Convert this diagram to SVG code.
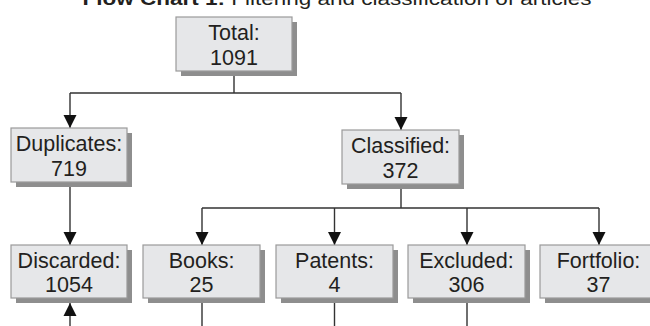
<svg xmlns="http://www.w3.org/2000/svg" width="650" height="326" viewBox="0 0 650 326">
<style>
.box{fill:#e6e7e9;stroke:#9a9a9a;stroke-width:1.2}
.sh{fill:#8e8e8e}
.t{font-family:"Liberation Sans",Arial,sans-serif;font-size:21.5px;fill:#231f20;text-anchor:middle}
.ln{stroke:#333;stroke-width:1.4;fill:none}
.title{font-family:"Liberation Sans",Arial,sans-serif;font-size:19px;fill:#231f20;text-anchor:middle}
</style>
<defs>
<marker id="ah" markerUnits="userSpaceOnUse" markerWidth="14" markerHeight="14" viewBox="0 0 14 14" refX="13" refY="7" orient="auto">
<path d="M0,0.5 L13,7 L0,13.5 Z" fill="#111"/>
</marker>
</defs>
<text class="title" x="337" y="5" textLength="509" lengthAdjust="spacingAndGlyphs"><tspan font-weight="bold">Flow Chart 1:</tspan> Filtering and classification of articles</text>
<g id="connectors">
<path class="ln" d="M234,71 V93 M70,93 H401"/>
<path class="ln" d="M70,93 V128" marker-end="url(#ah)"/>
<path class="ln" d="M401,93 V130" marker-end="url(#ah)"/>
<path class="ln" d="M70,182 V245" marker-end="url(#ah)"/>
<path class="ln" d="M401,184 V208 M202,208 H599"/>
<path class="ln" d="M202,208 V245" marker-end="url(#ah)"/>
<path class="ln" d="M334.5,208 V245" marker-end="url(#ah)"/>
<path class="ln" d="M467,208 V245" marker-end="url(#ah)"/>
<path class="ln" d="M599,208 V245" marker-end="url(#ah)"/>
<path class="ln" d="M202,298 V326 M334.5,298 V326 M467,298 V326"/>
<path class="ln" d="M70,326 V303" marker-end="url(#ah)"/>
</g>
<g id="total"><rect class="sh" x="181" y="22" width="116" height="54"/><rect class="box" x="176" y="17" width="116" height="54"/><text class="t" x="234" y="40">Total:</text><text class="t" x="234" y="65">1091</text></g>
<g id="duplicates"><rect class="sh" x="16" y="133" width="116" height="54"/><rect class="box" x="11" y="128" width="116" height="54"/><text class="t" x="69" y="151">Duplicates:</text><text class="t" x="69" y="176">719</text></g>
<g id="classified"><rect class="sh" x="347" y="135" width="117" height="54"/><rect class="box" x="342" y="130" width="117" height="54"/><text class="t" x="400.5" y="153">Classified:</text><text class="t" x="400.5" y="178">372</text></g>
<g id="discarded"><rect class="sh" x="16" y="250" width="116" height="53"/><rect class="box" x="11" y="245" width="116" height="53"/><text class="t" x="69" y="268">Discarded:</text><text class="t" x="69" y="292">1054</text></g>
<g id="books"><rect class="sh" x="148" y="250" width="117" height="53"/><rect class="box" x="143" y="245" width="117" height="53"/><text class="t" x="201.5" y="268">Books:</text><text class="t" x="201.5" y="292">25</text></g>
<g id="patents"><rect class="sh" x="281" y="250" width="117" height="53"/><rect class="box" x="276" y="245" width="117" height="53"/><text class="t" x="334.5" y="268">Patents:</text><text class="t" x="334.5" y="292">4</text></g>
<g id="excluded"><rect class="sh" x="413" y="250" width="117" height="53"/><rect class="box" x="408" y="245" width="117" height="53"/><text class="t" x="466.5" y="268">Excluded:</text><text class="t" x="466.5" y="292">306</text></g>
<g id="fortfolio"><rect class="sh" x="545" y="250" width="117" height="53"/><rect class="box" x="540" y="245" width="117" height="53"/><text class="t" x="598.5" y="268">Fortfolio:</text><text class="t" x="598.5" y="292">37</text></g>
</svg>
